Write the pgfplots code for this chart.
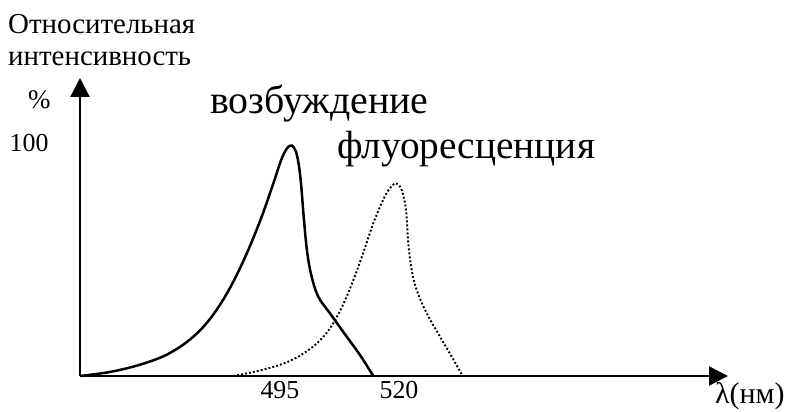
\documentclass[border=0pt]{standalone}
\usepackage{pgfplots}
\pgfplotsset{compat=1.18}
\usetikzlibrary{arrows.meta}
\usepackage{fontspec}
\setmainfont{Liberation Serif}
\begin{document}
\begin{tikzpicture}[x=1bp,y=1bp]
\useasboundingbox (-80,-35) rectangle (710,376);
\begin{axis}[
  at={(0,0)}, anchor=south west,
  scale only axis, width=648bp, height=298bp,
  xmin=453, xmax=589.1, ymin=0, ymax=127.9,
  axis lines=left,
  axis line style={line width=2.2bp, -{Triangle[length=19bp,width=19bp]}},
  xtick={495,520}, ytick={100},
  major tick length=0pt,
  /pgf/number format/assume math mode=true,
  tick label style={font=\fontsize{26}{26}\selectfont},
  xticklabel style={yshift=-2bp},
  yticklabel style={xshift=-28bp},
  clip=false,
]
\addplot[black, line width=2.5bp, smooth, tension=0.6] coordinates {
(453.0,0) (458.0,1.3) (462.0,2.9) (466.0,5.1) (470.0,8.0) (473.0,11.2)
(476.0,15.5) (479.0,21.3) (482.0,29.3) (485.0,39.7) (488.0,52.5) (491.0,67.5)
(493.5,82.0) (495.5,94.0) (497.0,98.8) (498.0,97.8) (498.7,93.5) (499.35,84.1)
(500.04,67.0) (500.74,52.7) (501.66,42.6) (503.05,34.0) (505.50,26.9)
(509.01,16.9) (511.81,9.0) (514.60,0)
};
\addplot[black, line width=1.9bp, dash pattern=on 1.9bp off 2.1bp, smooth, tension=0.6] coordinates {
(485.2,0) (490.0,2.0) (495.0,4.8) (499.0,8.5) (503.0,14.5) (506.0,22.0)
(509.0,34.0) (512.0,50.0) (514.6,65.5) (517.0,77.0) (518.6,81.8) (519.5,82.6)
(520.57,79.8) (521.47,71.2) (521.95,56.9) (522.67,45.5) (523.72,36.9)
(525.82,26.9) (528.61,16.9) (531.07,8.3) (533.38,0)
};
\end{axis}
\node[anchor=base west, inner sep=0, font=\fontsize{29}{29}\selectfont] at (-72,343) {Относительная};
\node[anchor=base west, inner sep=0, font=\fontsize{29}{29}\selectfont] at (-72,311) {интенсивность};
\node[anchor=base west, inner sep=0, font=\fontsize{27}{27}\selectfont] at (-52,268) {\%};
\node[anchor=base west, inner sep=0, font=\fontsize{40}{40}\selectfont] at (130,263) {возбуждение};
\node[anchor=base west, inner sep=0, font=\fontsize{39.5}{39.5}\selectfont] at (257,218) {флуоресценция};
\node[anchor=base west, inner sep=0, font=\fontsize{30}{30}\selectfont] at (635,-27) {λ(нм)};
\end{tikzpicture}
\end{document}
